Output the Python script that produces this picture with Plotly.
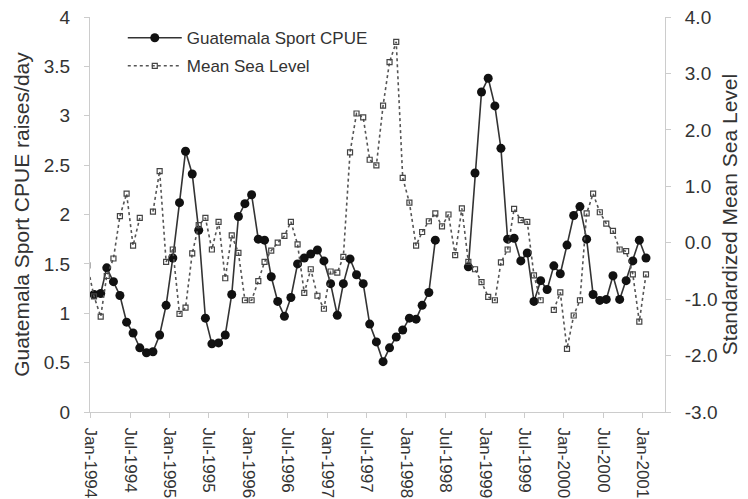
import pandas as pd
import plotly.graph_objects as go

# monthly series, Dec-1993 .. Jan-2001 (values plotted mid-month)
months = pd.date_range("1993-12-01", "2001-01-01", freq="MS") + pd.Timedelta(days=14)

# Guatemala sport CPUE (raises/day), left axis
cpue = [
    None,
    1.19, 1.20, 1.46, 1.32, 1.18, 0.91, 0.80, 0.65, 0.60, 0.61, 0.78, 1.08,   # 1994
    1.56, 2.12, 2.64, 2.41, 1.84, 0.95, 0.69, 0.70, 0.78, 1.19, 1.98, 2.11,   # 1995
    2.20, 1.75, 1.74, 1.37, 1.12, 0.97, 1.16, 1.50, 1.56, 1.60, 1.64, 1.53,   # 1996
    1.30, 0.98, 1.30, 1.55, 1.39, 1.30, 0.89, 0.71, 0.51, 0.65, 0.76, 0.83,   # 1997
    0.95, 0.94, 1.08, 1.21, 1.74, None, None, None, None, 1.47, 2.42, 3.24,   # 1998
    3.38, 3.10, 2.67, 1.75, 1.76, 1.53, 1.61, 1.12, 1.33, 1.24, 1.48, 1.40,   # 1999
    1.69, 1.99, 2.08, 1.75, 1.19, 1.13, 1.14, 1.38, 1.14, 1.33, 1.53, 1.74,   # 2000
    1.56,                                                                     # 2001
]

# standardized mean sea level, right axis
sea_level = [
    -0.40,
    -0.95, -1.31, -0.59, -0.28, 0.47, 0.87, -0.05, 0.44, None, 0.55, 1.27, -0.34,   # 1994
    -0.12, -1.26, -1.15, -0.19, 0.31, 0.44, -0.12, 0.37, -0.63, 0.13, -0.18, -1.02, # 1995
    -1.02, -0.68, -0.34, -0.14, 0.00, 0.12, 0.37, -0.03, -0.89, -0.47, -0.94, -1.17, # 1996
    -0.51, -0.53, -0.25, 1.60, 2.29, 2.22, 1.47, 1.37, 2.43, 3.20, 3.56, 1.15,      # 1997
    0.71, -0.05, 0.19, 0.38, 0.52, 0.29, 0.50, -0.22, 0.61, -0.34, -0.47, -0.70,    # 1998
    -0.96, -1.02, -0.35, -0.12, 0.60, 0.40, 0.37, -0.58, -1.02, None, -1.19, -0.88, # 1999
    -1.88, -1.29, -1.02, 0.52, 0.87, 0.54, 0.34, 0.21, -0.12, -0.15, -0.56, -1.40,  # 2000
    -0.56,                                                                          # 2001
]

left_ticks = [0, 0.5, 1, 1.5, 2, 2.5, 3, 3.5, 4]
right_ticks = [-3, -2, -1, 0, 1, 2, 3, 4]
right_labels = ["-3.0", "-2.0", "-1.0", "0.0", "1.0", "2.0", "3.0", "4.0"]

FONT = "Liberation Sans, Arial, sans-serif"
TXT = "#333333"
AX = "#cccccc"

fig = go.Figure()
fig.add_trace(go.Scatter(
    x=months, y=cpue, name="Guatemala Sport CPUE", legendgroup="a",
    mode="lines+markers",
    line=dict(color="#333333", width=1.6),
    marker=dict(symbol="circle", size=9, color="#111111"),
))
fig.add_trace(go.Scatter(
    x=months, y=sea_level, name="Mean Sea Level", legendgroup="b",
    yaxis="y2", mode="lines+markers",
    line=dict(color="#555555", width=1.6, dash="dot"),
    marker=dict(symbol="square-open", size=5, color="#444444", line=dict(width=1.2)),
))

# page body keeps its 8px margin, so the figure is 8px smaller than the window
fig.update_layout(
    width=740, height=491,
    margin=dict(l=82, r=83, t=9, b=87),
    paper_bgcolor="white", plot_bgcolor="white",
    font=dict(family=FONT, color=TXT),
    legend=dict(
        x=0.057, y=0.992, xanchor="left", yanchor="top",
        bgcolor="rgba(0,0,0,0)", font=dict(size=17, color=TXT),
        traceorder="grouped", tracegroupgap=3, itemwidth=54,
    ),
    xaxis=dict(
        type="date", range=["1993-12-27 10:00", "2001-04-13"], automargin=False,
        tick0="1994-01-01", dtick="M6", tickformat="%b-%Y", tickangle=90,
        ticks="outside", ticklen=5, tickcolor=AX, showline=True, linecolor=AX,
        showgrid=False, zeroline=False, tickfont=dict(size=17, color=TXT),
        ticklabelstandoff=6, ticklabeloverflow="allow",
    ),
    yaxis=dict(
        range=[0, 4], tickvals=left_ticks, automargin=False,
        ticks="outside", ticklen=5, tickcolor=AX, showline=True, linecolor=AX,
        showgrid=False, zeroline=False, tickfont=dict(size=19, color=TXT),
        ticklabelstandoff=10, ticklabeloverflow="allow",
        title=dict(text="Guatemala Sport CPUE raises/day", font=dict(size=21, color=TXT), standoff=8),
    ),
    yaxis2=dict(
        range=[-3, 4], overlaying="y", side="right", automargin=False,
        tickvals=right_ticks, ticktext=right_labels,
        ticks="outside", ticklen=5, tickcolor=AX, showline=True, linecolor=AX,
        showgrid=False, zeroline=False, tickfont=dict(size=19, color=TXT),
        ticklabelstandoff=10, ticklabeloverflow="allow",
        title=dict(text="Standardized Mean Sea Level", font=dict(size=21, color=TXT), standoff=5),
    ),
)

fig.write_html("out.html")
